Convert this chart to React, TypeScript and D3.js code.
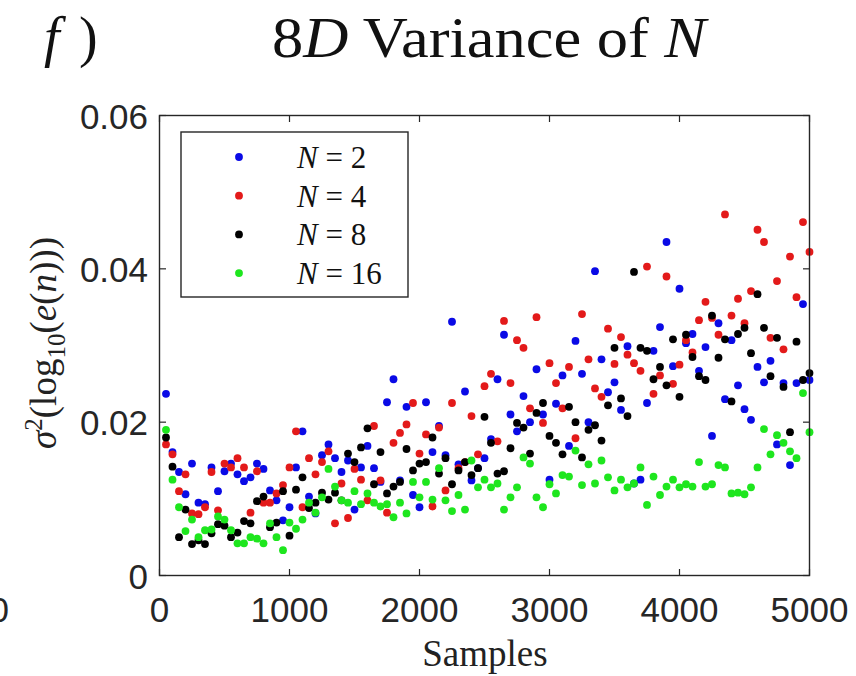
import React from "react";
import * as d3 from "d3";

const sampleStep = 50;
const blueN2 = [0.0237,0.0161,0.0135,0.0106,0.0146,0.0095,0.0093,0.0141,0.0110,0.0136,0.0146,0.0132,0.0123,0.0128,0.0146,0.0139,0.0111,0.0098,0.0072,0.0089,0.0141,0.0188,0.0103,0.0081,0.0157,0.0171,0.0153,0.0135,0.0150,0.0086,0.0141,0.0169,0.0140,0.0122,0.0226,0.0256,0.0124,0.0220,0.0105,0.0089,0.0226,0.0161,0.0195,0.0157,0.0331,0.0145,0.0240,0.0124,0.0140,0.0153,0.0178,0.0256,0.0314,0.0210,0.0188,0.0234,0.0200,0.0269,0.0210,0.0125,0.0224,0.0261,0.0169,0.0306,0.0263,0.0200,0.0397,0.0282,0.0239,0.0252,0.0216,0.0299,0.0120,0.0125,0.0225,0.0293,0.0324,0.0435,0.0273,0.0374,0.0303,0.0315,0.0267,0.0298,0.0182,0.0329,0.0230,0.0307,0.0248,0.0217,0.0203,0.0272,0.0252,0.0280,0.0171,0.0251,0.0144,0.0251,0.0354,0.0255];
const redN4 = [0.0171,0.0158,0.0110,0.0132,0.0081,0.0080,0.0089,0.0135,0.0085,0.0146,0.0141,0.0153,0.0141,0.0082,0.0136,0.0095,0.0095,0.0107,0.0118,0.0141,0.0188,0.0089,0.0153,0.0132,0.0148,0.0162,0.0068,0.0120,0.0075,0.0139,0.0125,0.0098,0.0195,0.0124,0.0082,0.0173,0.0186,0.0197,0.0225,0.0159,0.0184,0.0090,0.0193,0.0111,0.0225,0.0140,0.0148,0.0208,0.0158,0.0247,0.0263,0.0175,0.0332,0.0251,0.0307,0.0297,0.0218,0.0337,0.0199,0.0277,0.0251,0.0218,0.0272,0.0179,0.0341,0.0282,0.0244,0.0233,0.0322,0.0276,0.0311,0.0288,0.0277,0.0267,0.0403,0.0237,0.0261,0.0390,0.0250,0.0275,0.0307,0.0291,0.0333,0.0357,0.0336,0.0314,0.0471,0.0339,0.0361,0.0329,0.0371,0.0451,0.0435,0.0310,0.0384,0.0295,0.0416,0.0363,0.0461,0.0422];
const blackN8 = [0.0180,0.0142,0.0050,0.0086,0.0041,0.0046,0.0041,0.0055,0.0067,0.0065,0.0050,0.0056,0.0071,0.0068,0.0097,0.0103,0.0063,0.0069,0.0110,0.0052,0.0112,0.0128,0.0088,0.0095,0.0108,0.0099,0.0108,0.0098,0.0159,0.0148,0.0167,0.0192,0.0119,0.0161,0.0107,0.0116,0.0122,0.0165,0.0137,0.0146,0.0148,0.0180,0.0133,0.0153,0.0119,0.0137,0.0148,0.0131,0.0140,0.0207,0.0173,0.0133,0.0136,0.0166,0.0199,0.0193,0.0159,0.0212,0.0225,0.0182,0.0173,0.0158,0.0220,0.0200,0.0154,0.0190,0.0196,0.0176,0.0222,0.0297,0.0231,0.0208,0.0396,0.0297,0.0293,0.0256,0.0272,0.0248,0.0308,0.0233,0.0314,0.0285,0.0260,0.0255,0.0339,0.0284,0.0308,0.0227,0.0315,0.0323,0.0290,0.0367,0.0323,0.0260,0.0310,0.0246,0.0187,0.0305,0.0255,0.0264];
const greenN16 = [0.0190,0.0125,0.0089,0.0058,0.0073,0.0050,0.0059,0.0060,0.0077,0.0073,0.0059,0.0042,0.0042,0.0050,0.0048,0.0042,0.0068,0.0050,0.0033,0.0069,0.0061,0.0073,0.0095,0.0082,0.0102,0.0139,0.0116,0.0098,0.0095,0.0110,0.0093,0.0107,0.0095,0.0090,0.0093,0.0076,0.0095,0.0081,0.0122,0.0102,0.0122,0.0099,0.0140,0.0098,0.0084,0.0105,0.0086,0.0150,0.0115,0.0125,0.0115,0.0120,0.0086,0.0102,0.0115,0.0154,0.0146,0.0102,0.0089,0.0119,0.0107,0.0131,0.0129,0.0163,0.0118,0.0145,0.0120,0.0150,0.0128,0.0111,0.0125,0.0115,0.0120,0.0141,0.0092,0.0129,0.0105,0.0116,0.0125,0.0115,0.0119,0.0116,0.0148,0.0116,0.0119,0.0144,0.0141,0.0107,0.0108,0.0106,0.0115,0.0141,0.0191,0.0158,0.0183,0.0173,0.0162,0.0153,0.0238,0.0187];

const seriesLabels = ["2", "4", "8", "16"];
const xTicks = [0, 1000, 2000, 3000, 4000, 5000];
const yTicks = [0, 0.02, 0.04, 0.06];
const yTickLabels = ["0", "0.02", "0.04", "0.06"];

const series = [
  { label: seriesLabels[0], values: blueN2, color: "#0a0ae6" },
  { label: seriesLabels[1], values: redN4, color: "#e31a1a" },
  { label: seriesLabels[2], values: blackN8, color: "#000000" },
  { label: seriesLabels[3], values: greenN16, color: "#1ee61e" },
];

export default function App() {
  const W = 856, H = 676;
  const x = d3.scaleLinear().domain([0, 5000]).range([159.5, 809.5]);
  const y = d3.scaleLinear().domain([0, 0.06]).range([575.5, 115.5]);
  const axisColor = "#262626";
  const tickLen = 6.5;
  const serif = "'Liberation Serif', 'Times New Roman', serif";
  const sans = "'Liberation Sans', Arial, Helvetica, sans-serif";
  const [x0, x1] = x.range();
  const [y0, y1] = y.range();
  const tickFont = 35;
  return (
    <svg width={W} height={H} style={{ position: "absolute", left: 0, top: 0, background: "#fff" }}>
      <rect x={0} y={0} width={W} height={H} fill="#fff" />
      {/* remnant of neighbouring panel */}
      <text x={9} y={622} fontFamily={sans} fontSize={tickFont} fill={axisColor} textAnchor="end">5000</text>

      {/* title */}
      <text x={44} y={56} fontFamily={serif} fontSize={56} fontStyle="italic" fill="#111">f</text>
      <text x={79} y={56} fontFamily={serif} fontSize={56} fill="#111">)</text>
      <text x={272} y={57} fontFamily={serif} fontSize={56} fill="#111" textLength={434} lengthAdjust="spacingAndGlyphs">
        <tspan>8</tspan><tspan fontStyle="italic">D</tspan><tspan> Variance of </tspan><tspan fontStyle="italic">N</tspan>
      </text>

      {/* points */}
      {series.map((s) => (
        <g key={s.label}>
          {s.values.map((v, i) => (
            <circle key={i} cx={x((i + 1) * sampleStep)} cy={y(v)} r={3.9} fill={s.color} />
          ))}
        </g>
      ))}

      {/* axes box */}
      <rect x={x0} y={y1} width={x1 - x0} height={y0 - y1} fill="none" stroke={axisColor} strokeWidth={1.4} />
      {xTicks.map((t) => (
        <g key={"xt" + t}>
          <line x1={x(t)} x2={x(t)} y1={y0} y2={y0 - tickLen} stroke={axisColor} strokeWidth={1.2} />
          <line x1={x(t)} x2={x(t)} y1={y1} y2={y1 + tickLen} stroke={axisColor} strokeWidth={1.2} />
          <text x={x(t)} y={622} fontFamily={sans} fontSize={tickFont} fill={axisColor} textAnchor="middle">{t}</text>
        </g>
      ))}
      {yTicks.map((t, i) => (
        <g key={"yt" + t}>
          <line x1={x0} x2={x0 + tickLen} y1={y(t)} y2={y(t)} stroke={axisColor} strokeWidth={1.2} />
          <line x1={x1} x2={x1 - tickLen} y1={y(t)} y2={y(t)} stroke={axisColor} strokeWidth={1.2} />
          <text x={148} y={y(t) + 13} fontFamily={sans} fontSize={tickFont} fill={axisColor} textAnchor="end">{yTickLabels[i]}</text>
        </g>
      ))}

      {/* axis labels */}
      <text x={485} y={666} fontFamily={serif} fontSize={37} fill="#222" textAnchor="middle">Samples</text>
      <text transform="translate(56,343) rotate(-90)" fontFamily={serif} fontSize={37} fill="#222" textAnchor="middle">
        <tspan fontStyle="italic">σ</tspan>
        <tspan fontSize={25} dy={-14}>2</tspan>
        <tspan dy={14}>(log</tspan>
        <tspan fontSize={25} dy={9}>10</tspan>
        <tspan dy={-9}>(</tspan>
        <tspan fontStyle="italic">e</tspan>
        <tspan>(</tspan>
        <tspan fontStyle="italic">n</tspan>
        <tspan>)))</tspan>
      </text>

      {/* legend */}
      <rect x={181} y={132} width={227} height={165} fill="#fff" stroke={axisColor} strokeWidth={1.4} />
      {series.map((s, i) => {
        const ly = 157 + i * 38.7;
        return (
          <g key={"lg" + s.label}>
            <circle cx={239} cy={ly} r={3.9} fill={s.color} />
            <text x={297} y={ly + 11} fontFamily={serif} fontSize={31} fill="#111">
              <tspan fontStyle="italic">N</tspan><tspan> = {s.label}</tspan>
            </text>
          </g>
        );
      })}
    </svg>
  );
}
